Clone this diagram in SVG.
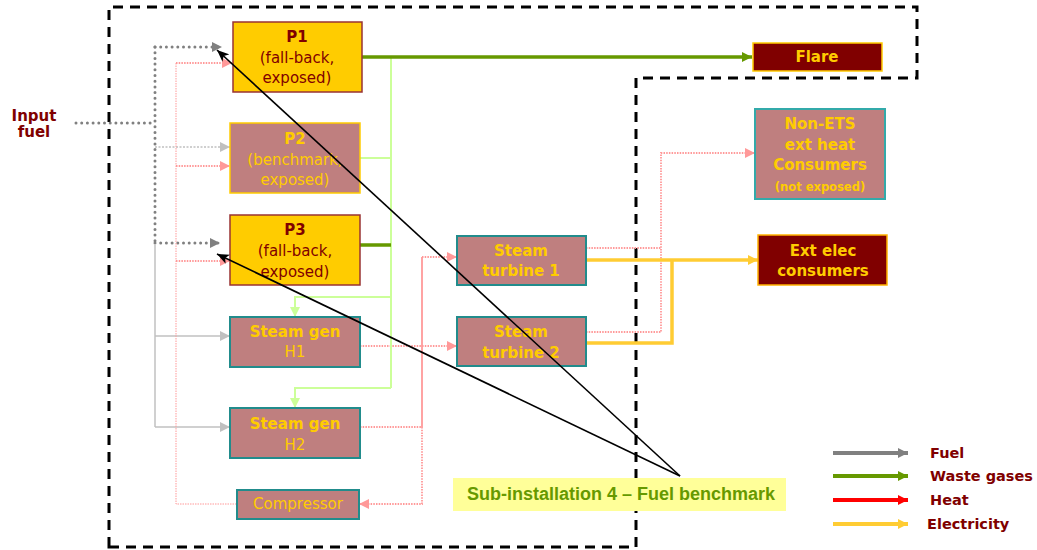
<svg xmlns="http://www.w3.org/2000/svg" width="1037" height="550" viewBox="0 0 1037 550">
<defs>
<style>
.t{font-family:"DejaVu Sans",Verdana,sans-serif;font-size:15px;text-anchor:middle}
.b{font-weight:bold}
.dr{fill:#800000}
.gd{fill:#FFCC00}
.y{fill:#FFCC00;stroke:#993333;stroke-width:1.5}
.r{fill:#BF7F7F;stroke:#218C8C;stroke-width:2}
.m{fill:#800000;stroke:#FFCC00;stroke-width:1.5}
.fuel{fill:none;stroke:#808080;stroke-width:3;stroke-dasharray:0 5.7;stroke-linecap:round}
.lg{fill:none;stroke:#C0C0C0;stroke-width:1.5}
.lgd{fill:none;stroke:#C0C0C0;stroke-width:1.5;stroke-dasharray:2 1.5}
.ht{fill:none;stroke:#FF9999;stroke-width:1.8;stroke-dasharray:1.5 1.2}
.htt{fill:none;stroke:#FF9999;stroke-width:1;stroke-dasharray:1.5 1}
.hts{fill:none;stroke:#FF9999;stroke-width:1.8}
.el{fill:none;stroke:#FFCC33;stroke-width:3.5}
.wg{fill:none;stroke:#669900;stroke-width:3.5}
.lgr{fill:none;stroke:#CCFF99;stroke-width:2}
.ann{fill:none;stroke:#000;stroke-width:1.6}
.lt{font-family:"DejaVu Sans",Verdana,sans-serif;font-size:14.5px;font-weight:bold;fill:#800000}
</style>
<marker id="aG" markerUnits="userSpaceOnUse" markerWidth="12" markerHeight="10" refX="10" refY="5" orient="auto"><path d="M0,0 L10,5 L0,10 Z" fill="#808080"/></marker>
<marker id="aLG" markerUnits="userSpaceOnUse" markerWidth="12" markerHeight="10" refX="10" refY="5" orient="auto"><path d="M0,0 L10,5 L0,10 Z" fill="#C0C0C0"/></marker>
<marker id="aP" markerUnits="userSpaceOnUse" markerWidth="12" markerHeight="10" refX="10" refY="5" orient="auto"><path d="M0,0 L10,5 L0,10 Z" fill="#FF9999"/></marker>
<marker id="aE" markerUnits="userSpaceOnUse" markerWidth="12" markerHeight="10" refX="10" refY="5" orient="auto"><path d="M0,0 L10,5 L0,10 Z" fill="#FFCC33"/></marker>
<marker id="aW" markerUnits="userSpaceOnUse" markerWidth="12" markerHeight="10" refX="10" refY="5" orient="auto"><path d="M0,0 L10,5 L0,10 Z" fill="#669900"/></marker>
<marker id="aLGr" markerUnits="userSpaceOnUse" markerWidth="12" markerHeight="10" refX="10" refY="5" orient="auto"><path d="M0,0 L10,5 L0,10 Z" fill="#CCFF99"/></marker>
<marker id="aR" markerUnits="userSpaceOnUse" markerWidth="12" markerHeight="10" refX="10" refY="5" orient="auto"><path d="M0,0 L10,5 L0,10 Z" fill="#FF0000"/></marker>
<marker id="aK" markerUnits="userSpaceOnUse" markerWidth="14" markerHeight="10" refX="12" refY="5" orient="auto"><path d="M0,0 L12,5 L0,10 L3,5 Z" fill="#000"/></marker>
</defs>
<rect width="1037" height="550" fill="#fff"/>
<path d="M109,547 V7 H917 V78 H636 V547 Z" fill="none" stroke="#000" stroke-width="3" stroke-dasharray="10 7"/>
<g id="connectors">
<path class="fuel" d="M76,123 H155"/>
<path class="fuel" d="M155,47 V243"/>
<path class="fuel" d="M155,47 H222" marker-end="url(#aG)"/>
<path class="fuel" d="M155,243 H220" marker-end="url(#aG)"/>
<path class="lgd" d="M155,147 H230" marker-end="url(#aLG)"/>
<path class="lg" d="M155,245 V427"/>
<path class="lg" d="M155,336 H230" marker-end="url(#aLG)"/>
<path class="lg" d="M155,427 H230" marker-end="url(#aLG)"/>
<path class="htt" d="M176,63 V504 H237"/>
<path class="ht" d="M176,63 H232" marker-end="url(#aP)"/>
<path class="ht" d="M176,166 H230" marker-end="url(#aP)"/>
<path class="ht" d="M176,261 H230" marker-end="url(#aP)"/>
<path class="ht" d="M360,346 H457" marker-end="url(#aP)"/>
<path class="ht" d="M360,427 H422"/>
<path class="hts" d="M422,427 V257"/>
<path class="ht" d="M422,257 H457" marker-end="url(#aP)"/>
<path class="ht" d="M422,427 V504 H359" marker-end="url(#aP)"/>
<path class="ht" d="M586,248 H661"/>
<path class="ht" d="M586,332 H661 V153 H755" marker-end="url(#aP)"/>
<path class="el" d="M586,260 H758" marker-end="url(#aE)"/>
<path class="el" d="M586,343 H672 V260"/>
<path class="lgr" d="M391,57 V388"/>
<path class="lgr" d="M360,158 H391"/>
<path class="lgr" d="M391,297 H295 V317" marker-end="url(#aLGr)"/>
<path class="lgr" d="M391,388 H295 V408" marker-end="url(#aLGr)"/>
<path class="wg" d="M362,57 H752" marker-end="url(#aW)"/>
<path class="wg" d="M360,245 H391"/>
</g>
<g id="input-fuel"><text class="t b dr" x="34" y="121">Input</text><text class="t b dr" x="34" y="137">fuel</text></g>
<g id="p1"><rect class="y" x="233" y="22" width="129" height="70"/><text class="t b dr" x="297" y="42">P1</text><text class="t dr" x="297" y="63">(fall-back,</text><text class="t dr" x="297" y="83">exposed)</text></g>
<g id="p2"><rect x="230" y="123" width="130" height="70" fill="#BF7F7F" stroke="#FFCC00" stroke-width="1.5"/><text class="t b gd" x="295" y="144">P2</text><text class="t gd" x="295" y="165">(benchmark,</text><text class="t gd" x="295" y="185">exposed)</text></g>
<g id="p3"><rect class="y" x="230" y="215" width="130" height="70"/><text class="t b dr" x="295" y="235">P3</text><text class="t dr" x="295" y="256">(fall-back,</text><text class="t dr" x="295" y="277">exposed)</text></g>
<g id="h1"><rect class="r" x="230" y="317" width="130" height="50"/><text class="t b gd" x="295" y="337">Steam gen</text><text class="t gd" x="295" y="357">H1</text></g>
<g id="h2"><rect class="r" x="230" y="408" width="130" height="50"/><text class="t b gd" x="295" y="429">Steam gen</text><text class="t gd" x="295" y="450">H2</text></g>
<g id="compressor"><rect class="r" x="237" y="490" width="122" height="29"/><text class="t gd" x="298" y="509">Compressor</text></g>
<g id="st1"><rect class="r" x="457" y="236" width="129" height="49"/><text class="t b gd" x="521" y="256">Steam</text><text class="t b gd" x="521" y="276">turbine 1</text></g>
<g id="st2"><rect class="r" x="457" y="317" width="129" height="49"/><text class="t b gd" x="521" y="337">Steam</text><text class="t b gd" x="521" y="358">turbine 2</text></g>
<g id="flare"><rect class="m" x="753" y="43" width="129" height="28"/><text class="t b gd" x="817" y="62">Flare</text></g>
<g id="non-ets"><rect x="755" y="109" width="130" height="90" fill="#BF7F7F" stroke="#33AAAA" stroke-width="2"/><text class="t b gd" x="820" y="129">Non-ETS</text><text class="t b gd" x="820" y="150">ext heat</text><text class="t b gd" x="820" y="170">Consumers</text><text class="t b gd" x="820" y="191" style="font-size:11.5px">(not exposed)</text></g>
<g id="ext-elec"><rect x="758" y="235" width="129" height="50" fill="#800000" stroke="#FFB300" stroke-width="1.5"/><text class="t b gd" x="823" y="256">Ext elec</text><text class="t b gd" x="823" y="276">consumers</text></g>
<g id="sub-installation"><rect x="453" y="478" width="333" height="33" fill="#FFFF99"/><text x="621" y="500" text-anchor="middle" font-family="'Liberation Sans',Arial,sans-serif" font-size="18" font-weight="bold" fill="#669900">Sub-installation 4 – Fuel benchmark</text></g>
<g id="annotation-arrows">
<path class="ann" d="M680,476 L217,50" marker-end="url(#aK)"/>
<path class="ann" d="M680,476 L217,254" marker-end="url(#aK)"/>
</g>
<g id="legend">
<path d="M833,453 H908" stroke="#808080" stroke-width="4" marker-end="url(#aG)"/>
<path d="M833,476 H908" stroke="#669900" stroke-width="4" marker-end="url(#aW)"/>
<path d="M833,500 H908" stroke="#FF0000" stroke-width="4" marker-end="url(#aR)"/>
<path d="M833,524 H908" stroke="#FFCC33" stroke-width="4" marker-end="url(#aE)"/>
<text class="lt" x="930" y="458">Fuel</text>
<text class="lt" x="930" y="481">Waste gases</text>
<text class="lt" x="930" y="505">Heat</text>
<text class="lt" x="927" y="529">Electricity</text>
</g>
</svg>
